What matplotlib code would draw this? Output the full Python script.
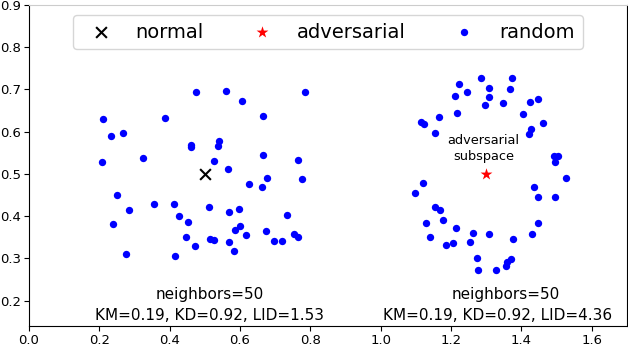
import numpy as np
import matplotlib
matplotlib.use('Agg')
import matplotlib.pyplot as plt

# random points around the normal sample (left)
left_x = [0.475, 0.560, 0.606, 0.664, 0.209, 0.387, 0.233, 0.268, 0.460, 0.461,
          0.540, 0.538, 0.666, 0.208, 0.325, 0.527, 0.764, 0.565, 0.677, 0.776,
          0.626, 0.663, 0.249, 0.283, 0.356, 0.413, 0.240, 0.427, 0.452, 0.511,
          0.569, 0.598, 0.733, 0.600, 0.586, 0.616, 0.673, 0.753, 0.764, 0.446,
          0.514, 0.525, 0.568, 0.697, 0.720, 0.471, 0.582, 0.276, 0.416, 0.784]
left_y = [0.693, 0.697, 0.673, 0.637, 0.630, 0.633, 0.589, 0.597, 0.569, 0.564,
          0.578, 0.565, 0.544, 0.529, 0.537, 0.530, 0.534, 0.512, 0.490, 0.489,
          0.477, 0.468, 0.449, 0.415, 0.429, 0.429, 0.381, 0.400, 0.386, 0.421,
          0.409, 0.418, 0.403, 0.376, 0.367, 0.355, 0.366, 0.359, 0.351, 0.350,
          0.347, 0.344, 0.340, 0.341, 0.341, 0.329, 0.318, 0.311, 0.305, 0.693]

# random points around the adversarial sample (right)
right_x = [1.286, 1.373, 1.223, 1.309, 1.368, 1.246, 1.211, 1.307, 1.448, 1.423,
           1.348, 1.295, 1.218, 1.403, 1.166, 1.114, 1.123, 1.461, 1.426, 1.422,
           1.155, 1.493, 1.504, 1.494, 1.528, 1.119, 1.096, 1.436, 1.448, 1.494,
           1.154, 1.168, 1.129, 1.176, 1.213, 1.447, 1.140, 1.261, 1.308, 1.429,
           1.375, 1.186, 1.204, 1.255, 1.275, 1.369, 1.360, 1.355, 1.276, 1.328]
right_y = [0.727, 0.727, 0.714, 0.704, 0.701, 0.694, 0.684, 0.681, 0.677, 0.671,
           0.669, 0.664, 0.645, 0.642, 0.635, 0.623, 0.619, 0.621, 0.607, 0.594,
           0.597, 0.542, 0.542, 0.528, 0.491, 0.478, 0.456, 0.469, 0.445, 0.445,
           0.422, 0.415, 0.385, 0.391, 0.372, 0.383, 0.351, 0.360, 0.359, 0.358,
           0.346, 0.332, 0.336, 0.339, 0.302, 0.299, 0.291, 0.282, 0.273, 0.273]

normal_pt = (0.5, 0.5)
adv_pt = (1.3, 0.5)

stats_left = ['neighbors=50', 'KM=0.19, KD=0.92, LID=1.53']
stats_right = ['neighbors=50', 'KM=0.19, KD=0.92, LID=4.36']

fig = plt.figure(figsize=(6.28, 3.46), dpi=100)
ax = fig.add_axes([29/628, 20/346, 598/628, 321/346])

ax.scatter([normal_pt[0]], [normal_pt[1]], marker='x', c='black', s=60,
           linewidths=1.5, label='normal', zorder=3)
ax.scatter([adv_pt[0]], [adv_pt[1]], marker='*', c='red', s=80,
           linewidths=0, label='adversarial', zorder=3)
ax.scatter(left_x + right_x, left_y + right_y, c='blue', s=28, linewidths=0,
           label='random', zorder=2)

ax.text(1.292, 0.561, 'adversarial\nsubspace', ha='center', va='center',
        fontsize=9.3, linespacing=1.3)

ax.text(0.514, 0.214, stats_left[0], ha='center', va='center', fontsize=11)
ax.text(0.513, 0.165, stats_left[1], ha='center', va='center', fontsize=11)
ax.text(1.356, 0.214, stats_right[0], ha='center', va='center', fontsize=11)
ax.text(1.333, 0.165, stats_right[1], ha='center', va='center', fontsize=11)

ax.set_xlim(0, 1.7)
ax.set_ylim(0.14, 0.9)
ax.set_xticks(np.arange(0, 1.61, 0.2))
ax.set_yticks(np.arange(0.2, 0.91, 0.1))
ax.tick_params(labelsize=9.5, pad=2)
ax.spines['top'].set_color('#cccccc')

ax.legend(loc='upper center', ncol=3, fontsize=14, scatterpoints=1)

fig.savefig('out.png', dpi=100)
